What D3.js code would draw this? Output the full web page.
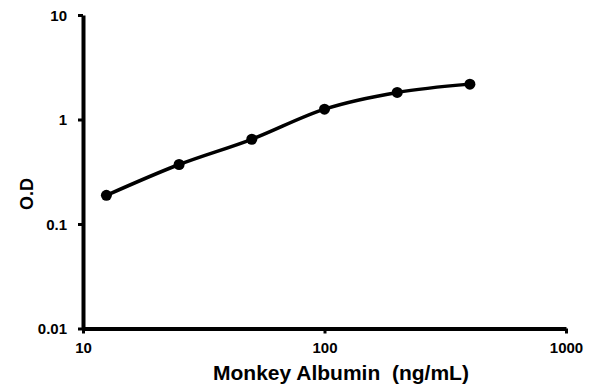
<!DOCTYPE html>
<html>
<head>
<meta charset="utf-8">
<script src="https://cdn.jsdelivr.net/npm/d3@7"></script>
<style>
  html, body { margin: 0; padding: 0; background: #fff; }
  svg { display: block; font-family: Arial, "Liberation Sans", sans-serif; }
  .axis path, .axis line { stroke: #000; }
  .axis text { font-size: 15px; font-weight: bold; fill: #000; }
  .title { font-weight: bold; fill: #000; }
</style>
</head>
<body>
<svg id="chart" width="593" height="389"></svg>
<script>
// Standard curve: concentration (ng/mL) vs optical density
const conc = [12.5, 25, 50, 100, 200, 400];
const od = [0.188, 0.371, 0.647, 1.256, 1.815, 2.18];
const xTicks = [10, 100, 1000];
const yTicks = [0.01, 0.1, 1, 10];

const svg = d3.select("#chart");
const plotL = 83, plotR = 566, plotT = 15, plotB = 328.5;

const x = d3.scaleLog().domain([10, 1000]).range([plotL, plotR]);
const y = d3.scaleLog().domain([0.01, 10]).range([plotB, plotT]);

// Axes
const xAxis = svg.append("g").attr("class", "axis")
  .attr("transform", `translate(0,${plotB})`)
  .call(d3.axisBottom(x).tickValues(xTicks).tickFormat(d3.format("")).tickSize(5).tickSizeOuter(0).tickPadding(9));
const yAxis = svg.append("g").attr("class", "axis")
  .attr("transform", `translate(${plotL},0)`)
  .call(d3.axisLeft(y).tickValues(yTicks).tickFormat(d => String(d)).tickSize(5).tickSizeOuter(0).tickPadding(11));

[xAxis, yAxis].forEach(g => {
  g.select(".domain").attr("stroke-width", 4);
  g.selectAll(".tick line").attr("stroke-width", 3);
});
yAxis.selectAll(".tick text").attr("dy", "0.36em");

// Curve
const pts = conc.map((c, i) => [c, od[i]]);
svg.append("path")
  .datum(pts)
  .attr("fill", "none")
  .attr("stroke", "#000")
  .attr("stroke-width", 3.5)
  .attr("stroke-linejoin", "round")
  .attr("d", d3.line().x(d => x(d[0])).y(d => y(d[1])).curve(d3.curveMonotoneX));

svg.append("g").selectAll("circle")
  .data(pts)
  .join("circle")
  .attr("cx", d => x(d[0]))
  .attr("cy", d => y(d[1]))
  .attr("r", 5.5)
  .attr("fill", "#000");

// Titles
svg.append("text").attr("class", "title")
  .attr("x", 341).attr("y", 380)
  .attr("text-anchor", "middle")
  .attr("font-size", 21)
  .attr("xml:space", "preserve")
  .text("Monkey Albumin  (ng/mL)");

svg.append("text").attr("class", "title")
  .attr("transform", "translate(33,194) rotate(-90)")
  .attr("text-anchor", "middle")
  .attr("font-size", 18)
  .text("O.D");
</script>
</body>
</html>
